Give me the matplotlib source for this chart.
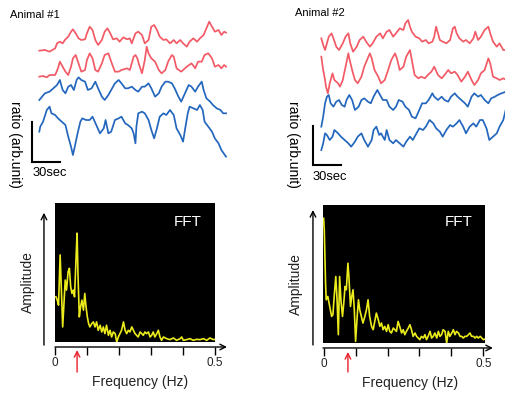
import matplotlib
matplotlib.use('Agg')
import matplotlib.pyplot as plt
import numpy as np

plt.rcParams['font.family'] = ['Liberation Sans', 'DejaVu Sans']

# ---- calcium ratio traces, animal #1 (time in s, ratio in arb. units) ----
a1_red1_t = [0, 6, 11, 17, 19, 22, 25, 28, 31, 34, 36, 39, 42, 45, 49, 51, 54, 57, 60, 63,
             67, 70, 73, 76, 79, 83, 86, 90, 94, 97, 99, 103, 106, 110, 113, 117, 120, 123, 126, 129,
             133, 136, 140, 144, 147, 151, 154, 158, 161, 165, 169, 172, 176, 179, 182, 185, 188, 192, 195, 198, 200]
a1_red1 = [3, 5, 0, 10, 25, 30, 25, 37, 45, 60, 67, 55, 40, 35, 37, 55, 75, 65, 35, 20,
           35, 60, 70, 55, 37, 40, 30, 43, 37, 40, 25, 55, 60, 50, 25, 35, 75, 80, 65, 45,
           35, 37, 25, 35, 25, 35, 25, 15, 30, 40, 30, 40, 50, 70, 90, 75, 60, 65, 50, 60, 57]

a1_red2_t = [0, 4, 8, 11, 17, 20, 22, 25, 28, 31, 34, 36, 39, 42, 45, 49, 51, 54, 57, 60,
             63, 67, 70, 74, 77, 81, 85, 88, 94, 97, 101, 103, 105, 107, 110, 113, 115, 117, 120, 124,
             128, 131, 135, 138, 142, 144, 147, 152, 158, 163, 167, 170, 174, 177, 181, 185, 188, 192, 195, 198, 200]
a1_red2 = [0, 2, -2, 5, 5, 25, 45, 30, 15, 5, 30, 55, 65, 40, 15, 20, 50, 70, 55, 20,
           15, 40, 65, 70, 45, 15, 15, 20, 25, 20, 60, 65, 55, 35, 10, 50, 90, 70, 55, 45,
           20, 10, 20, 45, 65, 60, 25, 15, 30, 40, 25, 45, 45, 65, 70, 55, 30, 35, 25, 35, 30]

a1_blue1_t = [0, 3, 6, 11, 15, 19, 22, 25, 28, 31, 34, 37, 40, 42, 45, 49, 52, 56, 60, 63,
              67, 70, 74, 77, 81, 85, 88, 92, 95, 99, 103, 106, 110, 113, 117, 120, 124, 128, 131, 135,
              138, 142, 145, 149, 152, 156, 160, 163, 167, 170, 174, 176, 179, 183, 186, 190, 194, 197, 200]
a1_blue1 = [0, 10, 20, 25, 35, 45, 60, 30, 20, 40, 45, 30, 60, 68, 60, 55, 30, 35, 55, 35,
            10, 0, 15, 30, 50, 60, 50, 35, 35, 40, 30, 25, 40, 40, 50, 35, 10, 20, 40, 55,
            55, 50, 35, 10, -5, 20, 45, 40, 25, 40, 55, 30, 5, -5, -15, -25, -30, -40, -40]

a1_blue2_t = [0, 1, 4, 8, 11, 13, 17, 20, 24, 28, 31, 34, 36, 38, 41, 44, 46, 50, 54, 57,
              61, 65, 69, 71, 74, 77, 81, 85, 88, 92, 95, 99, 101, 103, 104, 106, 110, 113, 117, 120,
              123, 126, 129, 133, 136, 140, 144, 147, 151, 154, 156, 159, 161, 165, 169, 172, 175, 177, 181, 185,
              188, 192, 195, 200]
a1_blue2 = [5, 20, 35, 70, 80, 60, 55, 45, 35, 25, -10, -40, -65, -40, 0, 35, 45, 40, 40, 50,
            25, 0, 15, 40, 0, 5, 40, 45, 50, 30, 25, 15, 0, -30, 20, 60, 65, 60, 40, 10,
            -15, 15, 50, 60, 55, 70, 55, 15, -5, -25, 10, 60, 80, 75, 70, 85, 70, 35, 20, 5,
            -15, -30, -50, -70]

# ---- animal #2 ----
a2_red1_t = [0, 2, 4, 6, 8, 11, 13, 16, 19, 23, 26, 29, 31, 34, 38, 41, 45, 48, 52, 55,
             59, 63, 66, 70, 73, 77, 80, 84, 88, 90, 93, 95, 97, 101, 105, 108, 112, 115, 119, 121,
             123, 125, 127, 130, 134, 138, 141, 143, 145, 148, 152, 155, 159, 163, 165, 168, 171, 175, 179, 181,
             184, 188, 191, 195, 198]
a2_red1 = [35, 15, 0, 20, 40, 50, 35, 10, 0, 20, 40, 50, 20, -5, 10, 30, 40, 25, 10, 20,
           40, 50, 35, 55, 60, 40, 50, 65, 60, 80, 90, 70, 55, 40, 35, 25, 30, 20, 25, 40,
           70, 50, 30, 25, 20, 30, 65, 70, 50, 35, 25, 30, 20, 35, 55, 30, 40, 60, 70, 50,
           25, 10, 20, 0, 0]

a2_red2_t = [0, 2, 4, 5, 7, 9, 12, 14, 18, 20, 23, 26, 29, 30, 33, 36, 39, 43, 46, 49,
             52, 54, 57, 61, 64, 68, 71, 75, 79, 81, 84, 88, 91, 95, 97, 100, 104, 107, 111, 114,
             118, 121, 125, 129, 132, 136, 139, 143, 146, 150, 154, 157, 161, 164, 168, 171, 175, 179, 181, 184,
             188, 191, 195, 198]
a2_red2 = [70, 30, 0, -20, -40, -10, 20, 0, -10, -20, 0, 40, 80, 65, 30, 0, -10, 10, 40, 60,
           80, 65, 30, 10, -10, 0, 25, 60, 80, 65, 30, 40, 70, 90, 60, 15, 5, 10, 5, 15,
           25, 40, 15, 5, 15, 30, 20, 25, 15, -5, 10, 25, 0, -15, 0, 20, 30, 65, 50, 10,
           5, 0, 5, 0]

a2_blue1_t = [0, 2, 4, 6, 8, 10, 13, 16, 19, 22, 25, 27, 30, 33, 36, 40, 43, 46, 50, 53,
              56, 60, 63, 66, 70, 73, 77, 80, 83, 87, 90, 94, 97, 101, 105, 108, 112, 115, 119, 121,
              125, 129, 132, 136, 139, 143, 146, 150, 154, 157, 161, 164, 168, 171, 175, 179, 182, 186, 189, 193, 198]
a2_blue1 = [-80, -50, -10, 10, 15, -10, -20, -5, 0, -15, -20, 0, 15, 0, -30, -20, 0, 5, -5, -10,
            10, 30, 15, 0, 0, -20, -30, -20, 0, -5, -20, -30, -50, -55, -30, -10, -10, 0, 20, 10,
            0, 10, 0, -5, 10, 20, 10, 0, -10, -20, 10, 20, 10, 15, 0, -10, 5, 10, 15, 20, 25]

a2_blue2_t = [0, 2, 4, 6, 9, 12, 14, 18, 21, 25, 29, 32, 36, 39, 43, 46, 50, 54, 56, 59,
              62, 64, 68, 70, 73, 77, 80, 84, 88, 91, 95, 98, 102, 105, 109, 112, 116, 120, 123, 127,
              130, 134, 138, 141, 145, 148, 152, 155, 159, 163, 166, 170, 173, 177, 180, 184, 188, 191, 195, 198]
a2_blue2 = [-30, -10, 20, 15, 0, 10, 30, 20, 10, 0, -10, -20, -5, 10, 20, 0, -20, 0, 30, 40,
            15, 20, 0, 30, 0, -10, 0, -10, -20, -5, 10, 0, 20, 35, 30, 40, 60, 50, 35, 25,
            10, 30, 45, 40, 50, 60, 40, 20, 40, 50, 40, 60, 60, 35, 0, 10, 20, 40, 60, 95]

# ---- FFT amplitude spectra (Hz, arb.) ----
fft1_f = [0.003, 0.007, 0.011, 0.016, 0.020, 0.024, 0.028, 0.032, 0.036, 0.041, 0.045, 0.049, 0.053,
          0.057, 0.061, 0.066, 0.069, 0.072, 0.076, 0.080, 0.084, 0.089, 0.093, 0.097, 0.101, 0.105,
          0.109, 0.115, 0.120, 0.125, 0.130, 0.135, 0.141, 0.146, 0.151, 0.156, 0.161, 0.167, 0.172,
          0.177, 0.182, 0.188, 0.193, 0.198, 0.203, 0.208, 0.214, 0.219, 0.224, 0.229, 0.234, 0.240,
          0.245, 0.250, 0.255, 0.260, 0.266, 0.271, 0.276, 0.281, 0.286, 0.292, 0.297, 0.302, 0.307,
          0.312, 0.318, 0.323, 0.328, 0.333, 0.339, 0.349, 0.359, 0.370, 0.380, 0.391, 0.396, 0.401,
          0.411, 0.422, 0.432, 0.443, 0.453, 0.464, 0.474, 0.484, 0.495, 0.500]
fft1_amp = [135, 125, 110, 260, 155, 45, 115, 185, 155, 210, 220, 165, 145,
            155, 135, 255, 325, 195, 75, 105, 125, 95, 145, 105, 75, 55,
            45, 55, 60, 45, 60, 35, 50, 30, 45, 25, 50, 20, 35,
            15, 30, 25, 0, 15, 25, 35, 60, 35, 25, 35, 30, 45,
            35, 25, 20, 15, 30, 25, 20, 30, 25, 30, 15, 20, 30,
            15, 25, 35, 15, 5, 15, 10, 7, 12, 5, 10, 15, 5,
            7, 10, 5, 8, 7, 10, 5, 12, 7, 8]

fft2_f = [0.000, 0.002, 0.004, 0.006, 0.008, 0.013, 0.017, 0.021, 0.025, 0.029, 0.033, 0.038, 0.042,
          0.046, 0.050, 0.054, 0.059, 0.063, 0.067, 0.071, 0.076, 0.079, 0.084, 0.088, 0.092, 0.096,
          0.100, 0.105, 0.109, 0.113, 0.118, 0.123, 0.129, 0.134, 0.139, 0.144, 0.150, 0.155, 0.160,
          0.165, 0.171, 0.176, 0.181, 0.186, 0.191, 0.197, 0.202, 0.207, 0.212, 0.218, 0.223, 0.228,
          0.233, 0.238, 0.244, 0.249, 0.254, 0.259, 0.265, 0.270, 0.275, 0.280, 0.286, 0.291, 0.296,
          0.301, 0.306, 0.312, 0.317, 0.322, 0.327, 0.333, 0.338, 0.343, 0.348, 0.354, 0.359, 0.364,
          0.369, 0.374, 0.380, 0.385, 0.390, 0.395, 0.401, 0.406, 0.411, 0.416, 0.422, 0.427, 0.432,
          0.437, 0.442, 0.448, 0.453, 0.458, 0.463, 0.469, 0.474, 0.479, 0.484, 0.490, 0.495, 0.500, 0.505]
fft2_amp = [375, 340, 260, 180, 130, 140, 120, 100, 80, 85, 140, 200, 130,
            25, 200, 130, 80, 120, 170, 160, 240, 200, 110, 140, 160, 100,
            5, 80, 130, 100, 80, 60, 80, 100, 130, 80, 50, 40, 65,
            90, 70, 50, 60, 40, 50, 35, 55, 35, 30, 45, 40, 35,
            65, 50, 30, 40, 25, 35, 45, 55, 40, 20, 30, 20, 15,
            10, 20, 15, 25, 10, 20, 35, 15, 20, 30, 15, 35, 20,
            25, 40, 35, 0, 35, 20, 30, 40, 25, 35, 30, 20, 20,
            15, 20, 20, 25, 30, 20, 20, 15, 20, 15, 20, 15, 10, 12]

freq_ticks = [0, 0.1, 0.2, 0.3, 0.4, 0.5]
freq_ticklabels = ['0', '', '', '', '', '0.5']

RED = '#f25a66'
BLUE = '#2366bd'
YELLOW = '#ecec1c'

fig = plt.figure(figsize=(5.06, 3.93), dpi=100)


def trace_panel(rect, title, title_xy, traces, xlim, offsets, bar_t, label_t):
    ax = fig.add_axes(rect)
    for (t, v, c), off in zip(traces, offsets):
        ax.plot(t, np.array(v) + off, color=c, lw=1.25)
    ax.set_xlim(*xlim)
    ax.set_ylim(-570, 0)
    ax.axis('off')
    # scale bar: 30 sec / ratio
    bt, by0, by1 = bar_t
    ax.plot([bt, bt, bt + 30], [by0, by1, by1], color='k', lw=1.5, solid_joinstyle='miter')
    ax.text(bt, by1 - 35, '30sec', ha='left', va='center', fontsize=9.3)
    ax.text(label_t, -432, 'ratio (arb.unit)', rotation=-90, ha='center', va='center', fontsize=10)
    fig.text(title_xy[0], title_xy[1], title, ha='left', va='center', fontsize=8)
    return ax


trace_panel([0, 1 - 190 / 393, 253 / 506, 190 / 393], 'Animal #1', (10 / 506, 1 - 15 / 393),
            [(a1_red1_t, a1_red1, RED), (a1_red2_t, a1_red2, RED),
             (a1_blue1_t, a1_blue1, BLUE), (a1_blue2_t, a1_blue2, BLUE)],
            (-42.1, 228.9), [-155, -230, -300, -400], (-7.5, -365, -485), -26)
trace_panel([253 / 506, 1 - 190 / 393, 253 / 506, 190 / 393], 'Animal #2', (295 / 506, 1 - 13 / 393),
            [(a2_red1_t, a2_red1, RED), (a2_red2_t, a2_red2, RED),
             (a2_blue1_t, a2_blue1, BLUE), (a2_blue2_t, a2_blue2, BLUE)],
            (-73.2, 197.9), [-150, -240, -300, -420], (-8.9, -378, -495), -30.4)


def fft_panel(rect, f, amp, xlim, yarrow, xarrow, peak_f, red_y, xlabel_x, ylabel_x, fft_xy):
    ax = fig.add_axes(rect)
    ax.set_facecolor('black')
    ax.plot(f, amp, color=YELLOW, lw=1.2)
    ax.set_xlim(*xlim)
    ax.set_ylim(0, 415)
    for s in ax.spines.values():
        s.set_visible(False)
    ax.spines['bottom'].set_position(('outward', 3.6))
    ax.set_yticks([])
    ax.set_xticks(freq_ticks)
    ax.set_xticklabels(freq_ticklabels)
    ax.tick_params(axis='x', direction='out', length=5.5, width=1, pad=2, labelsize=8.5,
                   labelcolor='#222222')
    arrow = dict(arrowstyle='->', lw=1, color='k', shrinkA=0, shrinkB=0)
    ax.annotate('', xy=(yarrow[0], yarrow[2]), xytext=(yarrow[0], yarrow[1]),
                xycoords='axes fraction', arrowprops=arrow, annotation_clip=False)
    ax.annotate('', xy=(xarrow[1], xarrow[0]), xytext=(0, xarrow[0]),
                xycoords='axes fraction', arrowprops=arrow, annotation_clip=False)
    ax.annotate('', xy=(peak_f, red_y[1]), xytext=(peak_f, red_y[0]),
                xycoords=('data', 'axes fraction'),
                arrowprops=dict(arrowstyle='->', lw=1, color='#e8202a', shrinkA=0, shrinkB=0),
                annotation_clip=False)
    ax.text(xlabel_x, -0.29, 'Frequency (Hz)', transform=ax.transAxes, ha='center', va='center',
            fontsize=10, color='#222222')
    ax.text(ylabel_x, 0.43, 'Amplitude', transform=ax.transAxes, rotation=90, ha='center', va='center',
            fontsize=10, color='#222222')
    ax.text(fft_xy[0], fft_xy[1], 'FFT', transform=ax.transAxes, ha='right', va='center',
            fontsize=11, color='white')
    return ax


fft_panel([55 / 506, 51 / 393, 160 / 506, 139 / 393], fft1_f, fft1_amp, (0, 0.5),
          (-0.069, -0.022, 0.93), (-0.036, 1.075), 0.069, (-0.216, -0.058), 0.53, -0.169, (0.919, 0.863))
fft_panel([323 / 506, 50 / 393, 162 / 506, 138 / 393], fft2_f, fft2_amp, (-0.002, 0.505),
          (-0.062, -0.014, 0.964), (-0.036, 1.049), 0.076, (-0.21, -0.065), 0.537, -0.167, (0.926, 0.877))

plt.savefig('out.png', dpi=100)
plt.close()
